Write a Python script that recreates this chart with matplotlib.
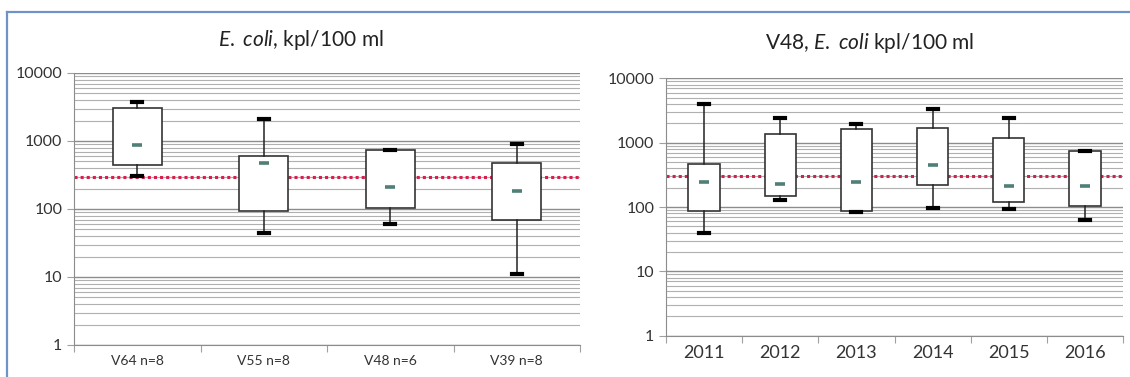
import matplotlib.pyplot as plt
from matplotlib.lines import Line2D
from matplotlib.ticker import FixedLocator, NullFormatter

plt.rcParams['font.family'] = ['Lato', 'DejaVu Sans']
plt.rcParams['mathtext.fontset'] = 'custom'
plt.rcParams['mathtext.it'] = 'Lato:italic'
plt.rcParams['mathtext.rm'] = 'Lato'

# sites, all years
sites = ["V64 n=8", "V55 n=8", "V48 n=6", "V39 n=8"]
site_min = [310, 45, 61, 11]
site_q1 = [445, 92, 105, 68]
site_med = [865, 470, 211, 184]
site_q3 = [3090, 608, 730, 480]
site_max = [3800, 2085, 730, 895]

# V48 by year
years = ["2011", "2012", "2013", "2014", "2015", "2016"]
year_min = [39, 129, 83, 97, 93, 62]
year_q1 = [88, 149, 88, 221, 121, 105]
year_med = [246, 229, 248, 447, 213, 213]
year_q3 = [463, 1386, 1657, 1718, 1200, 730]
year_max = [4055, 2404, 1983, 3319, 2404, 738]

limit = 300


def draw_panel(ax, labels, lo, q1, med, q3, hi, boxw, capw, fs):
    n = len(labels)
    pos = list(range(1, n + 1))
    stats = []
    for i in range(n):
        stats.append({"med": med[i], "q1": q1[i], "q3": q3[i],
                      "whislo": lo[i], "whishi": hi[i], "fliers": []})
    ax.set_yscale('log')
    ax.set_ylim(1, 10000)
    ax.set_xlim(0.5, n + 0.5)
    ax.grid(True, which='major', axis='y', color='#8c8c8c', lw=1.0, zorder=0)
    ax.grid(True, which='minor', axis='y', color='#b0b0b0', lw=0.8, zorder=0)
    ax.set_axisbelow(True)
    ax.axhline(limit, color='#d4204c', ls=(0, (1, 1)), lw=2.2, zorder=2)
    ax.bxp(stats, positions=pos, widths=boxw, capwidths=capw,
           patch_artist=True, showfliers=False, manage_ticks=False,
           boxprops=dict(facecolor='white', edgecolor='#333333', lw=1.2),
           whiskerprops=dict(color='#222222', lw=1.1),
           capprops=dict(color='black', lw=3.0),
           medianprops=dict(visible=False), zorder=3)
    ax.plot(pos, med, ls='none', marker='_', ms=7, mew=2.6,
            color='#4f7f76', zorder=4)
    ax.xaxis.set_major_locator(FixedLocator([p - 0.5 for p in pos] + [n + 0.5]))
    ax.xaxis.set_major_formatter(NullFormatter())
    ax.xaxis.set_minor_locator(FixedLocator(pos))
    ax.set_xticklabels(labels, minor=True)
    ax.tick_params(axis='x', which='major', length=5, color='#a0a0a0', direction='out')
    ax.tick_params(axis='x', which='minor', length=0, labelsize=fs, pad=7,
                   labelcolor='#333333')
    ax.set_yticks([1, 10, 100, 1000, 10000])
    ax.set_yticklabels(["1", "10", "100", "1000", "10000"])
    ax.tick_params(axis='y', which='major', length=5, color='#a0a0a0',
                   labelsize=11.5, labelcolor='#333333')
    ax.tick_params(axis='y', which='minor', length=0)
    for s in ['top', 'right']:
        ax.spines[s].set_visible(False)
    for s in ['left', 'bottom']:
        ax.spines[s].set_color('#8c8c8c')


fig = plt.figure(figsize=(11.3, 3.77), dpi=100)

ax1 = fig.add_axes([0.0655, 0.0849, 0.4478, 0.7215])
draw_panel(ax1, sites, site_min, site_q1, site_med, site_q3, site_max,
           0.39, 0.08, 10)

ax2 = fig.add_axes([0.5894, 0.1095, 0.4044, 0.6828])
draw_panel(ax2, years, year_min, year_q1, year_med, year_q3, year_max,
           0.41, 0.13, 13)

fig.text(0.266, 0.894, r"$\mathit{E.}$ $\mathit{coli}$, kpl/100 ml", ha='center',
         va='center', fontsize=15, color='#222222')
fig.text(0.77, 0.886, r"V48, $\mathit{E.}$ $\mathit{coli}$ kpl/100 ml", ha='center',
         va='center', fontsize=15, color='#222222')

# blue frame, top and left edges only
fig.add_artist(Line2D([0.006, 1.0], [0.968, 0.968], color='#6f93c8', lw=1.6))
fig.add_artist(Line2D([0.006, 0.006], [-0.1, 0.968], color='#6f93c8', lw=1.6))

fig.savefig('out.png', dpi=100, facecolor='white')
